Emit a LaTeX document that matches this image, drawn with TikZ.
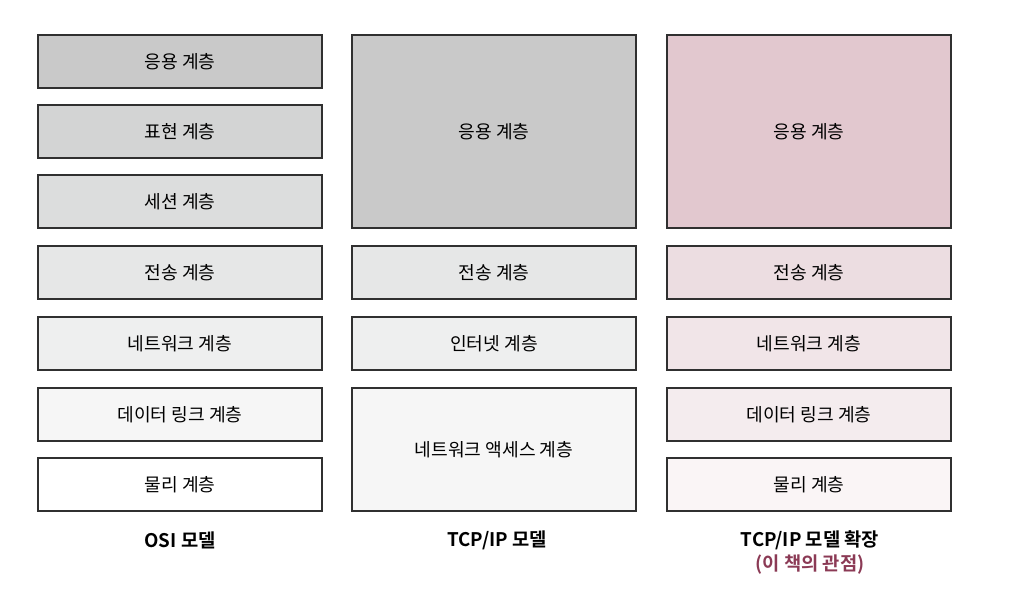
\documentclass[tikz,border=0pt]{standalone}
\usepackage{fontspec}
\setmainfont{Noto Sans CJK KR}
\newfontfamily\krbold{Noto Sans CJK KR Bold}
\definecolor{gA}{HTML}{C9C9C9}
\definecolor{gB}{HTML}{D3D4D4}
\definecolor{gC}{HTML}{DCDDDD}
\definecolor{gD}{HTML}{E6E7E7}
\definecolor{gE}{HTML}{EEEFEF}
\definecolor{gF}{HTML}{F6F6F6}
\definecolor{gG}{HTML}{FFFFFF}
\definecolor{pA}{HTML}{E2C8CF}
\definecolor{pB}{HTML}{ECDDE1}
\definecolor{pC}{HTML}{F1E5E8}
\definecolor{pD}{HTML}{F4ECEE}
\definecolor{pE}{HTML}{FAF5F6}
\definecolor{sub}{HTML}{8B3A55}
\definecolor{edge}{HTML}{303030}
\tikzset{
  layer/.style={draw=edge, line width=1pt, inner sep=0pt, text=black},
  captxt/.style={font=\krbold\fontsize{16}{18}\selectfont, text=black},
  lbl/.style={font=\fontsize{15.5}{18}\selectfont},
}
\newcommand{\lay}[6]{% name, x1, y1, x2, y2, fill
  \node[layer, fill=#6, minimum width={(#4-#2)*0.03cm}, minimum height={(#5-#3)*0.03cm}] (#1) at ({(#2+#4)/2*0.03},{-(#3+#5)/2*0.03}) {};
}
\begin{document}
\begin{tikzpicture}
\useasboundingbox (0,0) rectangle (1014*0.03,-589*0.03);
% column 1
\lay{a1}{38}{35}{322}{88}{gA}
\lay{a2}{38}{105}{322}{158}{gB}
\lay{a3}{38}{175}{322}{228}{gC}
\lay{a4}{38}{246}{322}{299}{gD}
\lay{a5}{38}{317}{322}{370}{gE}
\lay{a6}{38}{388}{322}{441}{gF}
\lay{a7}{38}{458}{322}{511}{gG}
% column 2
\lay{b1}{352}{35}{636}{228}{gA}
\lay{b2}{352}{246}{636}{299}{gD}
\lay{b3}{352}{317}{636}{370}{gE}
\lay{b4}{352}{388}{636}{511}{gF}
% column 3
\lay{c1}{667}{35}{951}{228}{pA}
\lay{c2}{667}{246}{951}{299}{pB}
\lay{c3}{667}{317}{951}{370}{pC}
\lay{c4}{667}{388}{951}{441}{pD}
\lay{c5}{667}{458}{951}{511}{pE}
\node[lbl] at (a1) {응용 계층};
\node[lbl] at (a2) {표현 계층};
\node[lbl] at (a3) {세션 계층};
\node[lbl] at (a4) {전송 계층};
\node[lbl] at (a5) {네트워크 계층};
\node[lbl] at (a6) {데이터 링크 계층};
\node[lbl] at (a7) {물리 계층};
\node[lbl] at (b1) {응용 계층};
\node[lbl] at (b2) {전송 계층};
\node[lbl] at (b3) {인터넷 계층};
\node[lbl] at (b4) {네트워크 액세스 계층};
\node[lbl] at (c1) {응용 계층};
\node[lbl] at (c2) {전송 계층};
\node[lbl] at (c3) {네트워크 계층};
\node[lbl] at (c4) {데이터 링크 계층};
\node[lbl] at (c5) {물리 계층};
\node[captxt] (ca) at (180*0.03,-540*0.03) {OSI 모델};
\node[captxt] (cb) at (497*0.03,-540*0.03) {TCP/IP 모델};
\node[captxt] (cc) at (810*0.03,-540*0.03) {TCP/IP 모델 확장};
\node[captxt, text=sub] (cd) at (810*0.03,-565*0.03) {(이 책의 관점)};
\end{tikzpicture}
\end{document}
